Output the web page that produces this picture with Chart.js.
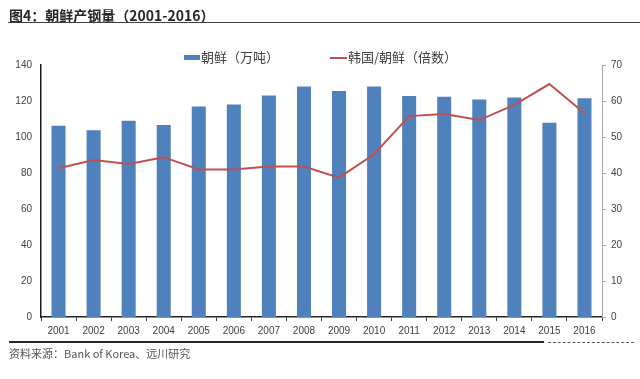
<!DOCTYPE html>
<html>
<head>
<meta charset="utf-8">
<script src="https://cdn.jsdelivr.net/npm/chart.js@4/dist/chart.umd.min.js"></script>
<style>
  html, body { margin:0; padding:0; background:#fff; }
  body { width:640px; height:379px; position:relative; overflow:hidden; font-family:"Noto Sans CJK SC","Noto Sans",sans-serif; }
  #wrap { position:absolute; left:0; top:0; width:640px; height:379px; }
  #title { position:absolute; left:9px; top:5px; font-size:14px; font-weight:bold; color:#262626; line-height:20px; white-space:nowrap; }
  #titleLine { position:absolute; left:8px; top:22px; width:632px; height:0; border-top:1.5px solid #404040; }
  #legend { position:absolute; top:48px; left:0; width:640px; height:18px; }
  .lg-item { position:absolute; top:0; height:18px; font-size:13px; line-height:18px; color:#404040; white-space:nowrap; }
  .lg-sw { position:absolute; }
  #bottomLine { position:absolute; left:9px; top:341px; width:535px; height:0; border-top:2px solid #262626; }
  #bottomDash { position:absolute; left:548px; top:342px; width:86px; height:0; border-top:1.5px dashed #555; }
  #source { position:absolute; left:9px; top:345px; font-size:11px; line-height:16px; color:#555; white-space:nowrap; }
</style>
</head>
<body>
<div id="wrap"><canvas id="c" width="640" height="379"></canvas></div>
<div id="title">图4：朝鲜产钢量（2001-2016）</div>
<div id="titleLine"></div>
<div id="legend"></div>
<div id="bottomLine"></div>
<div id="bottomDash"></div>
<div id="source">资料来源：Bank of Korea、远川研究</div>
<script>
// ---- data ----
const years = ["2001","2002","2003","2004","2005","2006","2007","2008","2009","2010","2011","2012","2013","2014","2015","2016"];
const nkSteel = [106.3,103.7,109,106.7,117,118.1,123.1,128.1,125.6,128.1,122.8,122.4,120.9,122,107.9,121.5];
const krNkRatio = [41.3,43.6,42.5,44.4,41.0,41.0,41.8,41.8,38.7,45.2,55.8,56.4,54.7,58.9,64.7,56.6];
const barLabel = "朝鲜（万吨）";
const lineLabel = "韩国/朝鲜（倍数）";
const leftTicks = [0,20,40,60,80,100,120,140];
const rightTicks = [0,10,20,30,40,50,60,70];

const barColor = "#4F81BD";
const lineColor = "#C0504D";
const tickFont = { family: "'Liberation Sans', Arial, sans-serif", size: 10 };

const chart = new Chart(document.getElementById('c'), {
  type: 'bar',
  data: {
    labels: years,
    datasets: [
      { type:'line', label: lineLabel, data: krNkRatio, yAxisID:'y1', borderColor: lineColor, backgroundColor: lineColor,
        borderWidth: 2, pointRadius: 0, tension: 0, order: 0 },
      { type:'bar', label: barLabel, data: nkSteel, yAxisID:'y', backgroundColor: barColor, borderWidth: 0,
        categoryPercentage: 0.8, barPercentage: 0.5, order: 1 }
    ]
  },
  options: {
    responsive: false,
    animation: false,
    devicePixelRatio: 1,
    layout: { padding: { top: 65, left: 0, right: 0, bottom: 0 } },
    plugins: { legend: { display: false }, tooltip: { enabled: false } },
    scales: {
      x: {
        offset: true,
        grid: { display: true, drawOnChartArea: false, drawTicks: true, tickLength: 4, color: '#404040', lineWidth: 1, offset: true },
        border: { display: true, color: '#262626', width: 1.5 },
        ticks: { color: '#404040', font: tickFont, padding: 4, maxRotation: 0, autoSkip: false },
        afterFit: s => { s.height = 62; }
      },
      y: {
        position: 'left', min: 0, max: 140,
        afterBuildTicks: s => { s.ticks = leftTicks.map(v => ({ value: v })); },
        grid: { display: false, drawTicks: false },
        border: { display: true, color: '#1a1a1a', width: 1.5 },
        ticks: { color: '#404040', font: tickFont, padding: 9 },
        afterFit: s => { s.width = 41; }
      },
      y1: {
        position: 'right', min: 0, max: 70,
        afterBuildTicks: s => { s.ticks = rightTicks.map(v => ({ value: v })); },
        grid: { display: true, drawOnChartArea: false, drawTicks: true, tickLength: 4, color: '#a6a6a6' },
        border: { display: true, color: '#a6a6a6', width: 1 },
        ticks: { color: '#404040', font: tickFont, padding: 5 },
        afterFit: s => { s.width = 38; }
      }
    }
  }
});

// ---- HTML legend built from datasets ----
const legend = document.getElementById('legend');
const items = [
  { ds: chart.data.datasets[1], left: 184, kind: 'bar' },
  { ds: chart.data.datasets[0], left: 330, kind: 'line' }
];
items.forEach(it => {
  const d = document.createElement('div');
  d.className = 'lg-item';
  d.style.left = it.left + 'px';
  const sw = document.createElement('div');
  sw.className = 'lg-sw';
  if (it.kind === 'bar') {
    sw.style.cssText = 'position:absolute;left:0;top:7px;width:16px;height:5px;background:' + it.ds.backgroundColor;
  } else {
    sw.style.cssText = 'position:absolute;left:0;top:8.5px;width:17px;height:0;border-top:2px solid ' + it.ds.borderColor;
  }
  const t = document.createElement('span');
  t.style.cssText = 'position:absolute;left:' + (it.kind === 'bar' ? 17 : 18) + 'px;top:0;';
  t.textContent = it.ds.label;
  d.appendChild(sw); d.appendChild(t);
  legend.appendChild(d);
});
</script>
</body>
</html>
